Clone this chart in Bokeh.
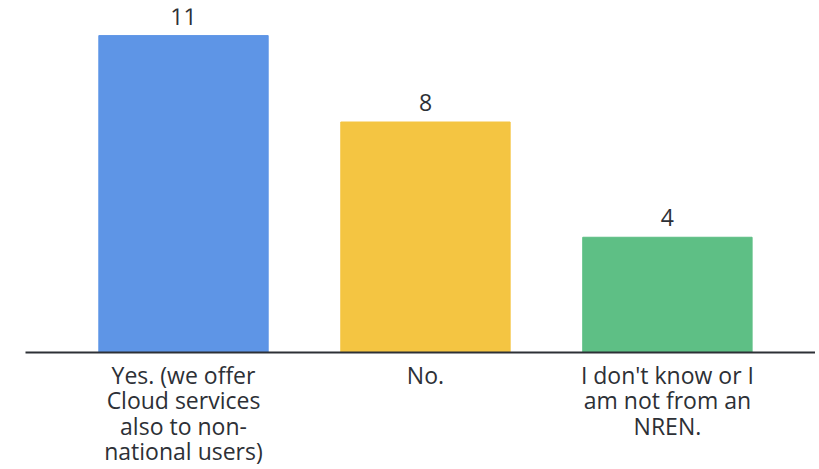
from bokeh.plotting import figure
from bokeh.models import ColumnDataSource, Range1d, FixedTicker
from bokeh.embed import file_html
from bokeh.resources import INLINE
from bokeh.core.properties import value

categories = ["Yes. (we offer\nCloud services\nalso to non-\nnational users)",
              "No.",
              "I don't know or I\nam not from an\nNREN."]
counts = [11, 8, 4]
colors = ["#5e95e6", "#f4c542", "#5ebf85"]
positions = [0, 1, 2]

src = ColumnDataSource(dict(x=positions, top=counts, color=colors,
                            label=[str(c) for c in counts]))

p = figure(frame_width=790, frame_height=344, output_backend="svg", toolbar_location=None,
           x_range=Range1d(-0.653, 2.612), y_range=Range1d(0, 11.94),
           min_border_left=25, min_border_right=0, min_border_top=8, min_border_bottom=0)

p.vbar(x="x", top="top", width=0.70, color="color", source=src)
p.text(x="x", y="top", text="label", source=src, y_offset=-11,
       text_align="center", text_baseline="bottom", text_font_size="23px",
       text_color="#2d3036", text_font=value("Open Sans"))

p.yaxis.visible = False
p.grid.visible = False
p.outline_line_color = None
ax = p.xaxis[0]
ax.ticker = FixedTicker(ticks=positions)
ax.major_label_overrides = {i: c for i, c in zip(positions, categories)}
ax.axis_line_color = "#2d3036"
ax.axis_line_width = 2
ax.major_tick_line_color = None
ax.minor_tick_line_color = None
ax.major_label_text_font = "Open Sans"
ax.major_label_text_font_size = "23px"
ax.major_label_text_color = "#2d3036"
ax.major_label_text_line_height = 0.8
ax.major_label_standoff = 0

open("out.html", "w").write(file_html(p, INLINE))
